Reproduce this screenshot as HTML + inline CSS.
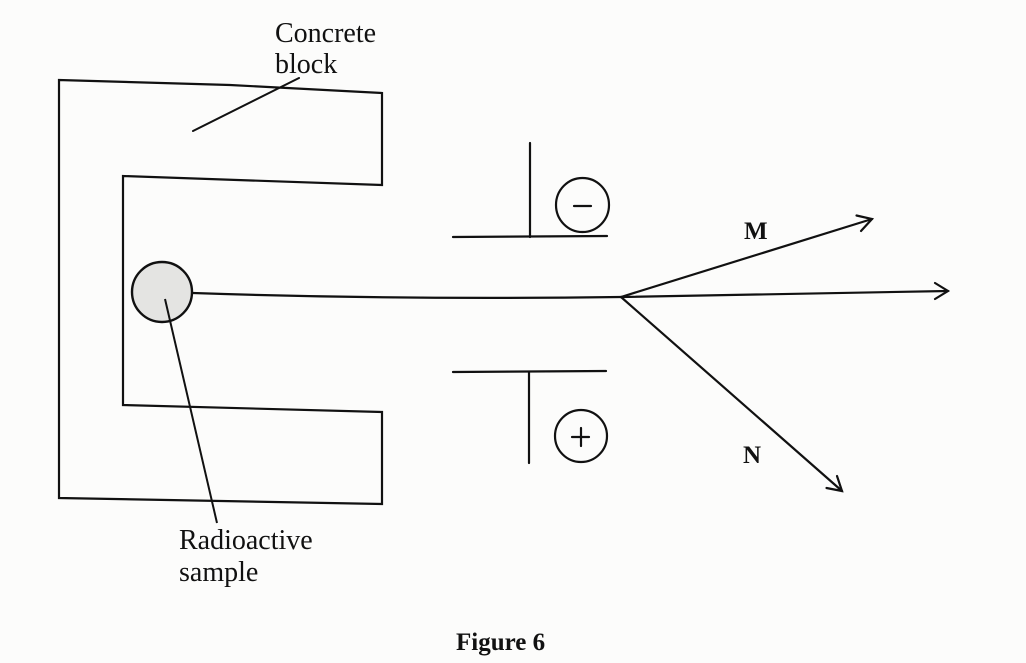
<!DOCTYPE html>
<html>
<head>
<meta charset="utf-8">
<style>
  html,body{margin:0;padding:0;background:#fcfcfb;}
  body{width:1026px;height:663px;overflow:hidden;}
  svg{display:block;}
  text{font-family:"Liberation Serif", "DejaVu Serif", serif;fill:#111;}
</style>
</head>
<body>
<svg width="1026" height="663" viewBox="0 0 1026 663" xmlns="http://www.w3.org/2000/svg">
  <rect x="0" y="0" width="1026" height="663" fill="#fcfcfb"/>
  <g fill="none" stroke="#111" stroke-width="2.2" stroke-linejoin="miter" stroke-linecap="round">
    <!-- concrete block -->
    <path d="M59,80 L230,85 L382,93 L382,185 L123,176 L123,405 L382,412 L382,504 L59,498 Z"/>
    <!-- leader lines -->
    <line x1="193" y1="131" x2="299" y2="78" stroke-width="2"/>
    <!-- beam -->
    <path d="M193,293 Q400,300 621,297"/>
    <!-- straight arrow -->
    <line x1="621" y1="297" x2="948" y2="291"/>
    <path d="M935,283 L948,291 L935,299"/>
    <!-- M arrow -->
    <line x1="621" y1="297" x2="872" y2="219"/>
    <path d="M856.5,215.5 L872,219 L861,231"/>
    <!-- N arrow -->
    <line x1="621" y1="297" x2="842" y2="491"/>
    <path d="M837,476 L842,491 L826.5,488"/>
    <!-- top plate -->
    <line x1="530" y1="143" x2="530" y2="237"/>
    <line x1="453" y1="237" x2="607" y2="236"/>
    <ellipse cx="582.5" cy="205" rx="26.5" ry="27"/>
    <line x1="574" y1="206" x2="591" y2="206"/>
    <!-- bottom plate -->
    <line x1="453" y1="372" x2="606" y2="371"/>
    <line x1="529" y1="372" x2="529" y2="463"/>
    <ellipse cx="581" cy="436" rx="26" ry="26"/>
    <line x1="572" y1="437" x2="589" y2="437"/>
    <line x1="581" y1="428" x2="581" y2="446"/>
  </g>
  <!-- radioactive sample -->
  <circle cx="162" cy="292" r="30" fill="#e4e4e2" stroke="#111" stroke-width="2.4"/>
  <line x1="165" y1="299" x2="217" y2="523" stroke="#111" stroke-width="2"/>

  <!-- labels -->
  <text x="275" y="42" font-size="28">Concrete</text>
  <text x="275" y="73" font-size="28">block</text>
  <text x="179" y="549" font-size="28">Radioactive</text>
  <text x="179" y="581" font-size="28">sample</text>
  <text x="744" y="239" font-size="25" font-weight="bold">M</text>
  <text x="743" y="463" font-size="25" font-weight="bold">N</text>
  <text x="456" y="650" font-size="25" font-weight="bold">Figure 6</text>
</svg>
</body>
</html>
